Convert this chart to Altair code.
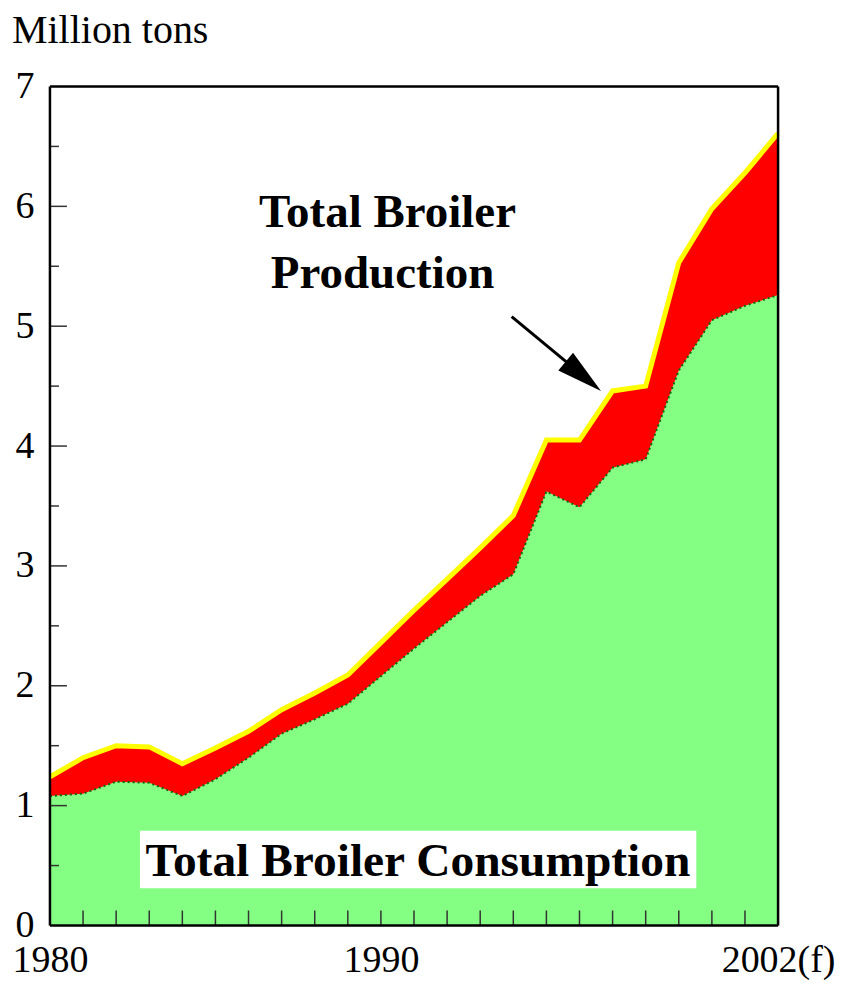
import math
import altair as alt
import pandas as pd

# ---------------- data ----------------
years = list(range(1980, 2003))
production = [1.24, 1.40, 1.50, 1.49, 1.35, 1.48, 1.62, 1.80, 1.94, 2.09, 2.36, 2.63,
              2.89, 3.15, 3.42, 4.05, 4.05, 4.46, 4.50, 5.53, 5.98, 6.28, 6.61]
consumption = [1.08, 1.10, 1.20, 1.19, 1.08, 1.22, 1.40, 1.60, 1.72, 1.85, 2.08, 2.31,
               2.53, 2.75, 2.93, 3.62, 3.49, 3.82, 3.89, 4.63, 5.05, 5.17, 5.26]

x_label_values = [1980, 1990, 2002]
x_label_texts = ["1980", "1990", "2002(f)"]
y_label_values = [0, 1, 2, 3, 4, 5, 6, 7]
y_major_ticks = [1, 2, 3, 4, 5, 6]
y_minor_ticks = [0.5, 1.5, 2.5, 3.5, 4.5, 5.5, 6.5]

y_title = "Million tons"
prod_label_lines = ["Total Broiler", "Production"]
prod_label_x = [1990.2, 1990.05]
prod_label_y = [5.83, 5.32]
cons_label = ["Total Broiler Consumption"]
cons_label_x = [1991.12]
cons_label_y = [0.41]
cons_box_x = [1982.72]
cons_box_x2 = [1999.53]
cons_box_y = [0.31]
cons_box_y2 = [0.79]
arrow_start = [1993.95, 5.08]
arrow_tip = [1996.65, 4.46]
arrow_body_end = [1996.05, 4.60]

# ---------------- layout ----------------
W, H = 729, 840
X_DOMAIN = [1980, 2002]
Y_DOMAIN = [0, 7]
SERIF = "Liberation Serif"

df = pd.DataFrame({"year": years, "production": production, "consumption": consumption})
xs = alt.Scale(domain=X_DOMAIN, nice=False, zero=False)
ys = alt.Scale(domain=Y_DOMAIN, nice=False, zero=False)

label_expr = " : ".join(
    [f"datum.value == {v} ? '{t}'" for v, t in zip(x_label_values, x_label_texts)]
) + " : ''"

x_axis = alt.Axis(values=x_label_values, labelExpr=label_expr, title=None, grid=False,
                  ticks=False, tickSize=0, domain=False, labelFont=SERIF, labelFontSize=38,
                  labelColor="black", labelPadding=16, labelFlush=False, labelOverlap=False,
                  labelBound=False)
y_axis = alt.Axis(values=y_label_values, title=None, grid=False, ticks=False, tickSize=0,
                  domain=False, labelFont=SERIF, labelFontSize=38, labelColor="black",
                  labelPadding=16, labelFlush=False, labelOverlap=False, format="d")

X = lambda f: alt.X(f, type="quantitative", scale=xs, axis=x_axis)
Y = lambda f: alt.Y(f, type="quantitative", scale=ys, axis=y_axis)

green = alt.Chart(df).mark_area(color="#84FF84", opacity=1).encode(
    x=X("year"), y=Y("consumption"), y2=alt.datum(0),
)
red = alt.Chart(df).mark_area(color="#FF0000", opacity=1).encode(
    x=X("year"), y=Y("production"), y2="consumption:Q"
)
cons_line = alt.Chart(df).mark_line(color="#0A6E0A", strokeWidth=2, strokeDash=[2, 3]).encode(
    x=X("year"), y=Y("consumption")
)
prod_line = alt.Chart(df).mark_line(color="#FFFF00", strokeWidth=5).encode(
    x=X("year"), y=Y("production")
)

# ticks (inside the frame)
tick_color = "#333333"
xticks = alt.Chart(pd.DataFrame({"t": years})).mark_rule(color=tick_color, strokeWidth=1.5).encode(
    x=X("t"), y=alt.value(H), y2=alt.value(H - 15)
)
ymaj = alt.Chart(pd.DataFrame({"t": y_major_ticks})).mark_rule(color=tick_color, strokeWidth=1.5).encode(
    y=Y("t"), x=alt.value(0), x2=alt.value(17)
)
ymin = alt.Chart(pd.DataFrame({"t": y_minor_ticks})).mark_rule(color=tick_color, strokeWidth=1.5).encode(
    y=Y("t"), x=alt.value(0), x2=alt.value(9)
)

# frame
fdata = pd.DataFrame({"a": [0]})
frame_w = 2.5
frame = [
    alt.Chart(fdata).mark_rule(color="black", strokeWidth=frame_w).encode(
        x=alt.value(0), x2=alt.value(W), y=alt.value(0)),
    alt.Chart(fdata).mark_rule(color="black", strokeWidth=frame_w).encode(
        x=alt.value(0), x2=alt.value(W), y=alt.value(H)),
    alt.Chart(fdata).mark_rule(color="black", strokeWidth=frame_w).encode(
        x=alt.value(0), y=alt.value(0), y2=alt.value(H)),
    alt.Chart(fdata).mark_rule(color="black", strokeWidth=frame_w).encode(
        x=alt.value(W), y=alt.value(0), y2=alt.value(H)),
]

# annotations
box = alt.Chart(pd.DataFrame({"x": cons_box_x, "x2": cons_box_x2, "y": cons_box_y, "y2": cons_box_y2})
                ).mark_rect(color="white", opacity=1).encode(
    x=X("x"), x2="x2:Q", y=Y("y"), y2="y2:Q")
cons_text = alt.Chart(pd.DataFrame({"x": cons_label_x, "y": cons_label_y, "t": cons_label})).mark_text(
    font=SERIF, fontWeight="bold", fontSize=47.5, color="black", align="center", baseline="alphabetic"
).encode(x=X("x"), y=Y("y"), text="t:N")
prod_text = alt.Chart(pd.DataFrame({"x": prod_label_x, "y": prod_label_y, "t": prod_label_lines})).mark_text(
    font=SERIF, fontWeight="bold", fontSize=47, color="black", align="center", baseline="alphabetic"
).encode(x=X("x"), y=Y("y"), text="t:N")

arrow_body = alt.Chart(pd.DataFrame({"x": [arrow_start[0]], "y": [arrow_start[1]],
                                     "x2": [arrow_body_end[0]], "y2": [arrow_body_end[1]]})
                       ).mark_rule(color="black", strokeWidth=3).encode(
    x=X("x"), y=Y("y"), x2="x2:Q", y2="y2:Q")

px_per_x = W / (X_DOMAIN[1] - X_DOMAIN[0])
px_per_y = H / (Y_DOMAIN[1] - Y_DOMAIN[0])
dxp = (arrow_tip[0] - arrow_start[0]) * px_per_x
dyp = (arrow_start[1] - arrow_tip[1]) * px_per_y
head_angle = 90 + math.degrees(math.atan2(dyp, dxp))
arrow_head = alt.Chart(pd.DataFrame({"x": [arrow_tip[0]], "y": [arrow_tip[1]]})).mark_point(
    shape="M0,0L-0.5,2L0.5,2Z", filled=True, size=2116, angle=head_angle,
    color="black", opacity=1, strokeWidth=0
).encode(x=X("x"), y=Y("y"))

title_text = alt.Chart(pd.DataFrame({"t": [y_title]})).mark_text(
    font=SERIF, fontSize=40, color="black", align="left", baseline="alphabetic"
).encode(x=alt.value(-38), y=alt.value(-44), text="t:N")

chart = alt.layer(
    green, red, cons_line, prod_line, box, cons_text, prod_text, arrow_body, arrow_head,
    xticks, ymaj, ymin, *frame, title_text
).properties(
    width=W, height=H, padding={"left": 4, "top": 2, "right": 0, "bottom": 0}
).configure_view(stroke=None).configure(background="white")

chart.save("out.html", embed_options={"renderer": "svg", "actions": False})
